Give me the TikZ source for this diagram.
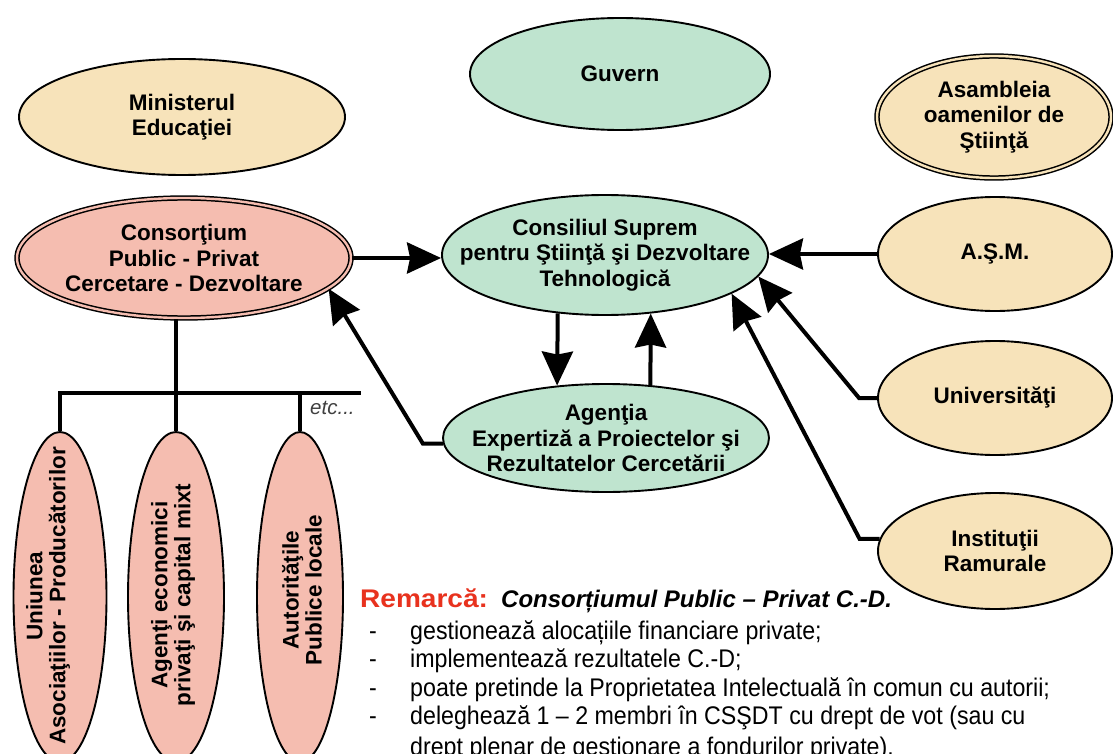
\documentclass[tikz,border=0pt]{standalone}
\usepackage{fontspec}
\setmainfont{Liberation Sans}
\newfontfamily\remfont[FakeStretch=0.91]{Liberation Sans}
\newfontfamily\headfont[FakeStretch=1.1]{Liberation Sans}
\usetikzlibrary{shapes.geometric,arrows.meta}
\definecolor{beige}{HTML}{F7E3BA}
\definecolor{mint}{HTML}{BFE4CF}
\definecolor{salmon}{HTML}{F5BDB0}
\definecolor{remred}{HTML}{E8321E}
\definecolor{etcgray}{HTML}{404040}
\tikzset{
  ell/.style={ellipse, draw=black, line width=1.9pt, inner sep=0pt, fill=#1},
  dbl/.style={ellipse, draw=black, line width=1.5pt, double=#1, double distance=2.4pt, inner sep=0pt, fill=#1},
  lbl/.style={font=\bfseries\fontsize{22.5}{25.5}\selectfont, align=center, inner sep=0pt},
  vlbl/.style={font=\bfseries\fontsize{22.5}{23}\selectfont, align=center, inner sep=0pt, rotate=90},
  arr/.style={line width=4pt, -{Stealth[length=34pt,width=31pt,inset=3pt]}},
  tree/.style={line width=3.6pt},
  remline/.style={anchor=base west, inner sep=0pt, font=\remfont\fontsize{25.5}{30}\selectfont},
}
\begin{document}
\begin{tikzpicture}[x=1pt,y=-1pt]
\useasboundingbox (0,0) rectangle (1113,754);
\clip (0,0) rectangle (1113,754);
\fill[white] (0,0) rectangle (1113,754);

% top row
\node[ell=beige, minimum width=326pt, minimum height=116pt,
  label={[lbl]center:Ministerul\\Educaţiei}] (min) at (182,117) {};
\node[ell=mint, minimum width=300pt, minimum height=112pt,
  label={[lbl]center:Guvern}] (guv) at (620,74) {};
\node[dbl=beige, minimum width=234pt, minimum height=122pt,
  label={[lbl]center:Asambleia\\oamenilor de\\Ştiinţă}] (asa) at (994,117) {};

% middle row
\node[dbl=salmon, minimum width=334pt, minimum height=120pt,
  label={[lbl]center:Consorţium\\Public - Privat\\Cercetare - Dezvoltare}] (cons) at (184,258) {};
\node[ell=mint, minimum width=326pt, minimum height=120pt,
  label={[lbl]center:Consiliul Suprem\\pentru Ştiinţă şi Dezvoltare\\Tehnologică}] (csdt) at (605,255) {};
\node[ell=beige, minimum width=234pt, minimum height=114pt,
  label={[lbl]center:A.Ş.M.}] (asm) at (995,254) {};

\node[ell=mint, minimum width=326pt, minimum height=108pt,
  label={[lbl]center:Agenţia\\Expertiză a Proiectelor şi\\Rezultatelor Cercetării}] (ag) at (606,438) {};
\node[ell=beige, minimum width=234pt, minimum height=114pt,
  label={[lbl]center:Universităţi}] (univ) at (995,398) {};
\node[ell=beige, minimum width=234pt, minimum height=116pt,
  label={[lbl]center:Instituţii\\Ramurale}] (inst) at (995,551) {};

% lower vertical ellipses
\node[ell=salmon, minimum width=93pt, minimum height=330pt] (u1) at (60,597) {};
\node[ell=salmon, minimum width=96pt, minimum height=330pt] (u2) at (176,597) {};
\node[ell=salmon, minimum width=86pt, minimum height=330pt] (u3) at (300,597) {};
\node[vlbl] (u1t) at (48,596) {Uniunea\\Asociaţiilor - Producătorilor};
\node[vlbl] (u2t) at (173,595) {Agenţi economici\\privaţi şi capital mixt};
\node[vlbl] (u3t) at (302,590) {Autorităţile\\Publice locale};

% tree
\coordinate (barR) at (361,393);
\draw[tree] (u2.north |- cons.south) -- (u2.north);
\draw[tree] (u1.north) |- (barR);
\draw[tree] (u3.north |- barR) -- (u3.north);
\node[anchor=west, inner sep=0pt, text=etcgray, font=\itshape\fontsize{20.5}{22}\selectfont] (etc) at (310,408) {etc...};

% arrows
\draw[arr] (cons.east) -- (cons.east -| csdt.west);
\draw[arr] (ag.182) -- ++(-20,0) -- (cons.-12);
\draw[arr] (csdt.231) -- (ag.133);
\draw[arr] (ag.50) -- (csdt.-52);
\draw[arr] (asm.west) -- (asm.west -| csdt.east);
\draw[arr] (univ.west) -- ++(-18,0) -- (csdt.-8);
\draw[arr] (inst.174) -- ++(-20,0) -- (csdt.-17);

% remark
\node[anchor=base west, inner sep=0pt, text=remred, font=\headfont\bfseries\fontsize{25.5}{30}\selectfont] (rem) at (360,607) {Remarcă:};
\node[anchor=base west, inner sep=0pt, font=\bfseries\itshape\fontsize{24}{30}\selectfont] (remt) at (501,607) {Consorțiumul Public – Privat C.-D.};
\node[remline] (d1) at (369,639) {-};
\node[remline] (l1) at (410,639) {gestionează alocațiile financiare private;};
\node[remline] (d2) at (369,667.5) {-};
\node[remline] (l2) at (410,667.5) {implementează rezultatele C.-D;};
\node[remline] (d3) at (369,696) {-};
\node[remline] (l3) at (410,696) {poate pretinde la Proprietatea Intelectuală în comun cu autorii;};
\node[remline] (d4) at (369,724.5) {-};
\node[remline] (l4) at (410,724.5) {deleghează 1 – 2 membri în CSŞDT cu drept de vot (sau cu};
\node[remline] (l5) at (410,755) {drept plenar de gestionare a fondurilor private).};
\end{tikzpicture}
\end{document}
